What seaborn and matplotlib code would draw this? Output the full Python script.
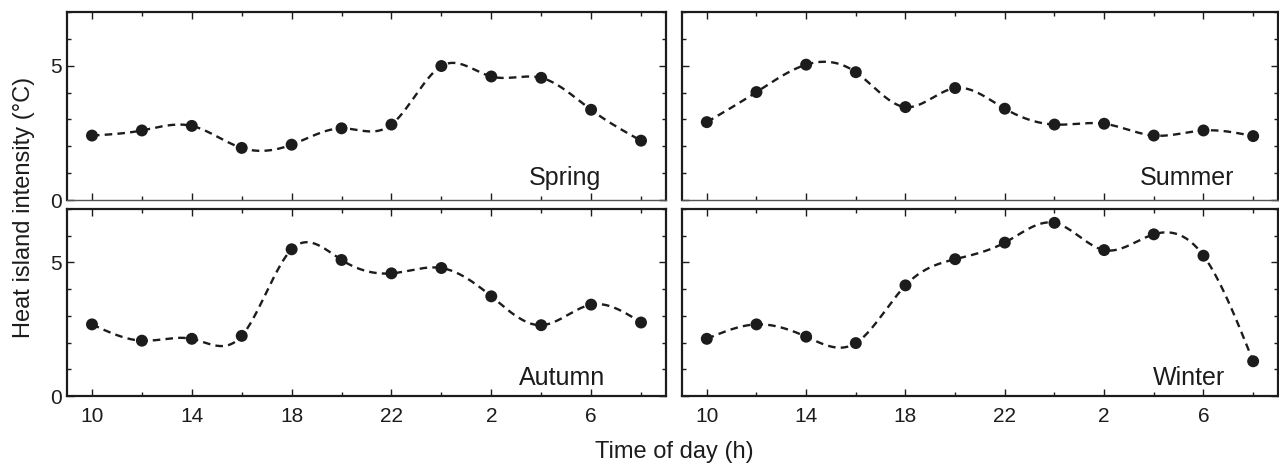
import numpy as np
import pandas as pd
import matplotlib
matplotlib.use("Agg")
import matplotlib.pyplot as plt
import seaborn as sns
from matplotlib.ticker import MultipleLocator, FixedLocator

# readings every 2 h, starting 10 h and running through the night
hours = [10, 12, 14, 16, 18, 20, 22, 24, 2, 4, 6, 8]
spring = [2.40, 2.59, 2.76, 1.94, 2.06, 2.67, 2.81, 4.99, 4.60, 4.55, 3.36, 2.21]
summer = [2.90, 4.02, 5.04, 4.76, 3.46, 4.17, 3.40, 2.81, 2.84, 2.40, 2.59, 2.38]
autumn = [2.68, 2.07, 2.14, 2.25, 5.49, 5.09, 4.59, 4.79, 3.73, 2.65, 3.42, 2.75]
winter = [2.14, 2.68, 2.22, 1.98, 4.14, 5.12, 5.74, 6.48, 5.46, 6.05, 5.25, 1.30]
seasons = ["Spring", "Summer", "Autumn", "Winter"]
major_labels = ["10", "14", "18", "22", "2", "6"]

rows = []
for name, vals in zip(seasons, [spring, summer, autumn, winter]):
    for i, (h, v) in enumerate(zip(hours, vals)):
        rows.append({"season": name, "pos": i, "hour": h, "value": v})
df = pd.DataFrame(rows)


def natural_spline(x, y, num=400):
    # plain natural cubic spline so the dashed line runs smoothly through the dots
    x = np.asarray(x, float)
    y = np.asarray(y, float)
    n = len(x)
    h = np.diff(x)
    A = np.zeros((n, n))
    b = np.zeros(n)
    A[0, 0] = A[-1, -1] = 1
    for i in range(1, n - 1):
        A[i, i - 1] = h[i - 1]
        A[i, i] = 2 * (h[i - 1] + h[i])
        A[i, i + 1] = h[i]
        b[i] = 6 * ((y[i + 1] - y[i]) / h[i] - (y[i] - y[i - 1]) / h[i - 1])
    M = np.linalg.solve(A, b)
    xs = np.linspace(x[0], x[-1], num)
    k = np.clip(np.searchsorted(x, xs) - 1, 0, n - 2)
    t0 = x[k + 1] - xs
    t1 = xs - x[k]
    hk = h[k]
    ys = (M[k] * t0 ** 3 + M[k + 1] * t1 ** 3) / (6 * hk) \
        + (y[k] / hk - M[k] * hk / 6) * t0 + (y[k + 1] / hk - M[k + 1] * hk / 6) * t1
    return xs, ys


sns.set_style("ticks")
plt.rcParams["font.family"] = ["Liberation Sans", "DejaVu Sans"]
ink = "#1c1c1c"

fig = plt.figure(figsize=(12.79, 4.63), dpi=100)
boxes = {
    "Spring": [0.0524, 0.568, 0.4683, 0.406],
    "Summer": [0.5332, 0.568, 0.4660, 0.406],
    "Autumn": [0.0524, 0.1447, 0.4683, 0.404],
    "Winter": [0.5332, 0.1447, 0.4660, 0.404],
}
label_pos = {
    "Spring": (0.892, 0.08),
    "Summer": (0.927, 0.08),
    "Autumn": (0.898, 0.059),
    "Winter": (0.911, 0.059),
}

for name in seasons:
    ax = fig.add_axes(boxes[name])
    sub = df[df["season"] == name]
    xs, ys = natural_spline(sub["pos"], sub["value"])
    ax.plot(xs, ys, color=ink, lw=1.7, ls=(0, (3.2, 2.2)), zorder=2)
    sns.scatterplot(data=sub, x="pos", y="value", ax=ax, color=ink, s=74,
                    edgecolor="none", zorder=3, legend=False)
    ax.set_xlim(-0.5, 11.5)
    ax.set_ylim(0, 7)
    ax.xaxis.set_major_locator(FixedLocator([0, 2, 4, 6, 8, 10]))
    ax.xaxis.set_minor_locator(FixedLocator([1, 3, 5, 7, 9, 11]))
    ax.yaxis.set_major_locator(FixedLocator([0, 5]))
    ax.yaxis.set_minor_locator(MultipleLocator(1))
    ax.tick_params(which="both", direction="in", top=True, right=True,
                   color=ink, labelsize=15, labelcolor=ink)
    ax.tick_params(which="major", length=5, width=1.0)
    ax.tick_params(which="minor", length=3, width=1.0)
    ax.tick_params(axis="x", pad=8)
    ax.tick_params(axis="y", pad=4)
    ax.set_xlabel("")
    ax.set_ylabel("")
    if name in ("Spring", "Summer"):
        ax.set_xticklabels([])
    else:
        ax.set_xticklabels(major_labels)
    if name in ("Summer", "Winter"):
        ax.set_yticklabels([])
    else:
        ax.set_yticklabels(["0", "5"])
    for side, sp in ax.spines.items():
        sp.set_visible(True)
        sp.set_color(ink)
        sp.set_linewidth(1.6)
    if name in ("Spring", "Summer"):
        ax.spines["bottom"].set_linewidth(1.0)
        ax.spines["bottom"].set_color("#555555")
    tx, ty = label_pos[name]
    ax.text(tx, ty, name, transform=ax.transAxes, ha="right", va="baseline",
            fontsize=18, color=ink)

fig.text(0.0185, 0.553, "Heat island intensity (°C)", rotation=90,
         ha="center", va="center", fontsize=17, color=ink)
fig.text(0.527, 0.011, "Time of day (h)", ha="center", va="baseline",
         fontsize=17, color=ink)

fig.savefig("out.png", dpi=100)
